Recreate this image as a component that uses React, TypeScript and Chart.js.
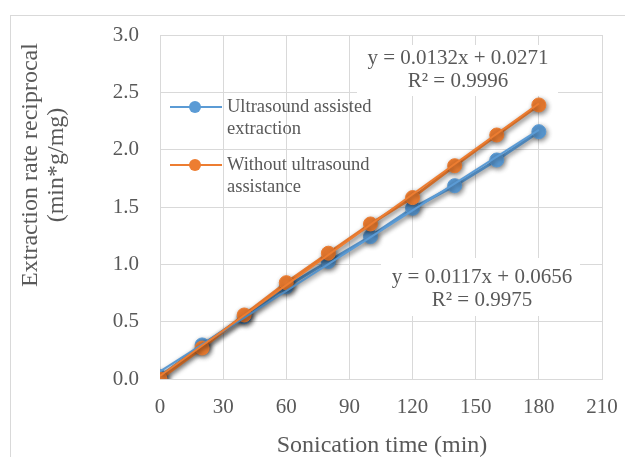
import { useEffect, useRef } from "react";
import { Chart, registerables } from "chart.js";

Chart.register(...registerables);

// ---- data ----
const sonicationTime = [0, 20, 40, 60, 80, 100, 120, 140, 160, 180];
const ultrasoundAssisted = [0.02, 0.297, 0.543, 0.805, 1.025, 1.242, 1.489, 1.686, 1.91, 2.157];
const withoutUltrasound = [0.0, 0.27, 0.558, 0.84, 1.097, 1.352, 1.582, 1.86, 2.128, 2.39];
const trendX = [0, 180];
const ultrasoundTrend = [0.066, 2.172];
const withoutTrend = [0.027, 2.403];
const xTicks = [0, 30, 60, 90, 120, 150, 180, 210];
const yTicks = [0, 0.5, 1.0, 1.5, 2.0, 2.5, 3.0];
const seriesNames = [["Ultrasound assisted", "extraction"], ["Without ultrasound", "assistance"]];
const equationLabels = [["y = 0.0132x + 0.0271", "R² = 0.9996"], ["y = 0.0117x + 0.0656", "R² = 0.9975"]];
const xTitle = "Sonication time (min)";
const yTitle = ["Extraction rate reciprocal", "(min*g/mg)"];

const BLUE = "#5B9BD5";
const ORANGE = "#ED7D31";
const GRID = "#d9d9d9";
const TEXT = "#595959";
const SERIF = '"Liberation Serif", "Times New Roman", serif';

const pts = (xs: number[], ys: number[]) => xs.map((x, i) => ({ x, y: ys[i] }));

export default function App() {
  const ref = useRef<HTMLCanvasElement>(null);

  useEffect(() => {
    document.body.style.margin = "0";
    const canvas = ref.current!;

    const decor = {
      id: "decor",
      beforeDraw(chart: any) {
        const ctx = chart.ctx;
        ctx.save();
        ctx.fillStyle = "#ffffff";
        ctx.fillRect(0, 0, chart.width, chart.height);
        ctx.restore();
      },
      beforeDatasetsDraw(chart: any) {
        const ctx = chart.ctx;
        ctx.save();
        ctx.fillStyle = "#ffffff";
        ctx.fillRect(357, 45, 201, 51);
        ctx.fillRect(381, 258, 199, 58);
        ctx.restore();
        ctx.save();
        ctx.shadowColor = "rgba(0,0,0,0.45)";
        ctx.shadowBlur = 5;
        ctx.shadowOffsetX = 1.5;
        ctx.shadowOffsetY = 2;
      },
      afterDatasetsDraw(chart: any) {
        chart.ctx.restore();
      },
      afterDraw(chart: any) {
        const ctx = chart.ctx;
        ctx.save();
        // outer chart border
        ctx.strokeStyle = GRID;
        ctx.lineWidth = 1;
        ctx.strokeRect(10.5, 15.5, 700, 600);

        ctx.fillStyle = TEXT;
        // x title
        ctx.font = `24px ${SERIF}`;
        ctx.textAlign = "center";
        ctx.textBaseline = "middle";
        ctx.fillText(xTitle, 382, 446);
        // y title
        ctx.save();
        ctx.translate(31, 165);
        ctx.rotate(-Math.PI / 2);
        ctx.fillText(yTitle[0], 0, 0);
        ctx.fillText(yTitle[1], 0, 26);
        ctx.restore();

        // equations
        ctx.font = `21px ${SERIF}`;
        ctx.fillText(equationLabels[0][0], 458, 58);
        ctx.fillText(equationLabels[0][1], 458, 81);
        ctx.fillText(equationLabels[1][0], 482, 277);
        ctx.fillText(equationLabels[1][1], 482, 300);

        // legend
        const items = [
          { color: BLUE, y: 107, lines: seriesNames[0] },
          { color: ORANGE, y: 165, lines: seriesNames[1] },
        ];
        ctx.font = `18.5px ${SERIF}`;
        ctx.textAlign = "left";
        for (const it of items) {
          ctx.strokeStyle = it.color;
          ctx.lineWidth = 2;
          ctx.beginPath();
          ctx.moveTo(170, it.y);
          ctx.lineTo(222, it.y);
          ctx.stroke();
          ctx.fillStyle = it.color;
          ctx.beginPath();
          ctx.arc(195, it.y, 6, 0, Math.PI * 2);
          ctx.fill();
          ctx.fillStyle = TEXT;
          ctx.fillText(it.lines[0], 227, it.y);
          ctx.fillText(it.lines[1], 227, it.y + 22);
        }
        ctx.restore();
      },
    };

    const chart = new Chart(canvas, {
      type: "line",
      data: {
        datasets: [
          {
            label: "Without ultrasound assistance",
            data: pts(sonicationTime, withoutUltrasound),
            borderColor: ORANGE,
            backgroundColor: ORANGE,
            borderWidth: 3,
            pointRadius: 7,
            pointBorderWidth: 1,
            pointBorderColor: ORANGE,
            pointBackgroundColor: ORANGE,
            tension: 0,
            order: 1,
          },
          {
            label: "Ultrasound assisted extraction",
            data: pts(sonicationTime, ultrasoundAssisted),
            borderColor: BLUE,
            backgroundColor: BLUE,
            borderWidth: 3,
            pointRadius: 7,
            pointBorderWidth: 1,
            pointBorderColor: BLUE,
            pointBackgroundColor: BLUE,
            tension: 0,
            order: 2,
          },
          {
            label: "trend-orange",
            data: pts(trendX, withoutTrend),
            borderColor: ORANGE,
            borderWidth: 2,
            pointRadius: 0,
            order: 0,
          },
          {
            label: "trend-blue",
            data: pts(trendX, ultrasoundTrend),
            borderColor: BLUE,
            borderWidth: 2,
            pointRadius: 0,
            order: 0,
          },
        ],
      },
      options: {
        animation: false,
        responsive: false,
        devicePixelRatio: 1,
        layout: { padding: { top: 35, right: 23, left: 0, bottom: 0 } },
        plugins: { legend: { display: false }, tooltip: { enabled: false } },
        scales: {
          x: {
            type: "linear",
            min: xTicks[0],
            max: xTicks[xTicks.length - 1],
            afterBuildTicks: (s: any) => {
              s.ticks = xTicks.map((v) => ({ value: v }));
            },
            ticks: {
              font: { family: SERIF, size: 21 },
              color: TEXT,
              padding: 16,
              maxRotation: 0,
              autoSkip: false,
            },
            grid: { color: GRID, drawTicks: false, lineWidth: 1 },
            border: { color: GRID },
            afterFit: (s: any) => {
              s.height = 78;
              s.paddingLeft = 0;
              s.paddingRight = 0;
            },
          },
          y: {
            type: "linear",
            min: yTicks[0],
            max: yTicks[yTicks.length - 1],
            afterBuildTicks: (s: any) => {
              s.ticks = yTicks.map((v) => ({ value: v }));
            },
            ticks: {
              font: { family: SERIF, size: 21 },
              color: TEXT,
              padding: 21,
              autoSkip: false,
              callback: (v: any) => Number(v).toFixed(1),
            },
            grid: { color: GRID, drawTicks: false, lineWidth: 1 },
            border: { color: GRID },
            afterFit: (s: any) => {
              s.width = 160;
              s.paddingTop = 0;
              s.paddingBottom = 0;
            },
          },
        },
      },
      plugins: [decor],
    });
    return () => chart.destroy();
  }, []);

  return <canvas ref={ref} width={625} height={457} style={{ display: "block" }} />;
}
